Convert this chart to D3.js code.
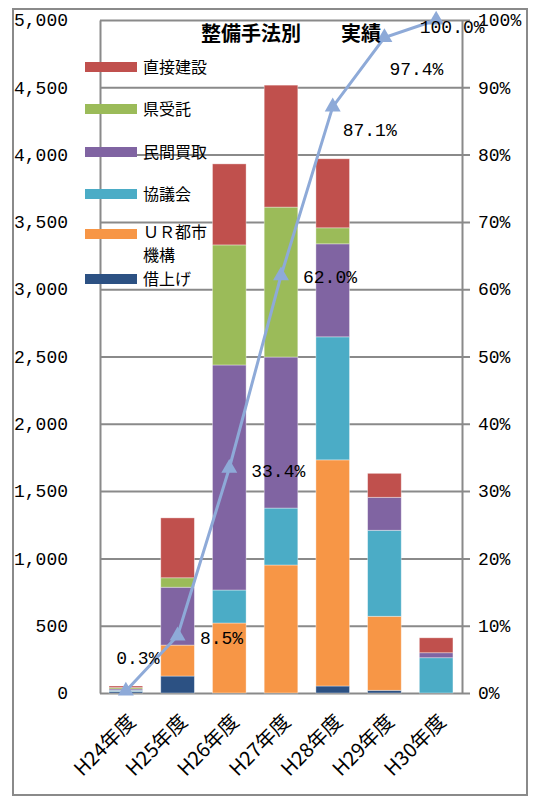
<!DOCTYPE html>
<html>
<head>
<meta charset="utf-8">
<script src="https://cdn.jsdelivr.net/npm/d3@7"></script>
<style>
  body { margin: 0; background: #fff; }
  #chart-area { width: 533px; height: 799px; }
</style>
</head>
<body>
<div id="chart-area"></div>
<script>
// data
const years = ["H24年度", "H25年度", "H26年度", "H27年度", "H28年度", "H29年度", "H30年度"];
const kariage = [12, 126, 0, 0, 52, 20, 0];          // 借上げ
const urKikou = [0, 230, 520, 951, 1680, 550, 0];    // ＵＲ都市機構
const kyougikai = [8, 0, 245, 423, 914, 639, 262];   // 協議会
const minkan = [10, 430, 1672, 1122, 691, 245, 37];  // 民間買取
const kenJutaku = [10, 70, 892, 1114, 119, 0, 0];    // 県受託
const chokusetsu = [12, 445, 602, 906, 513, 178, 111]; // 直接建設
const cumulativePct = [0.3, 8.5, 33.4, 62.0, 87.1, 97.4, 100.0];
const leftTicks = [0, 500, 1000, 1500, 2000, 2500, 3000, 3500, 4000, 4500, 5000];
const rightTicks = [0, 10, 20, 30, 40, 50, 60, 70, 80, 90, 100];

/* * * * * * * * * * * * * *
 *        StackVis          *
 * * * * * * * * * * * * * */

class StackVis {
  constructor(parentElement) {
    this.parentElement = parentElement;

    // series, bottom to top
    this.series = [
      { key: "借上げ", values: kariage, color: "#2c5183" },
      { key: "ＵＲ都市機構", values: urKikou, color: "#f79646" },
      { key: "協議会", values: kyougikai, color: "#4bacc6" },
      { key: "民間買取", values: minkan, color: "#8064a2" },
      { key: "県受託", values: kenJutaku, color: "#9bbb59" },
      { key: "直接建設", values: chokusetsu, color: "#c0504d" },
    ];

    this.initVis();
  }

  initVis() {
    let vis = this;

    vis.margin = { top: 20, right: 71, bottom: 106, left: 100 };
    vis.width = 533;
    vis.height = 799;

    vis.svg = d3
      .select("#" + vis.parentElement)
      .append("svg")
      .attr("width", vis.width)
      .attr("height", vis.height);

    // outer frame
    vis.svg
      .append("rect")
      .attr("x", 13)
      .attr("y", 9)
      .attr("width", 514)
      .attr("height", 786)
      .attr("fill", "none")
      .attr("stroke", "#8a8a8a")
      .attr("stroke-width", 2);

    vis.x = d3
      .scaleBand()
      .domain(years)
      .range([vis.margin.left, vis.width - vis.margin.right])
      .paddingInner(0.35)
      .paddingOuter(0.175);

    vis.y = d3
      .scaleLinear()
      .domain([0, 5000])
      .range([vis.height - vis.margin.bottom, vis.margin.top]);

    vis.y2 = d3
      .scaleLinear()
      .domain([0, 100])
      .range([vis.height - vis.margin.bottom, vis.margin.top]);

    vis.wrangleData();
  }

  wrangleData() {
    let vis = this;

    vis.table = years.map((yr, i) => {
      let row = { year: yr };
      vis.series.forEach((s) => (row[s.key] = s.values[i]));
      return row;
    });

    vis.stacked = d3.stack().keys(vis.series.map((s) => s.key))(vis.table);

    vis.updateVis();
  }

  updateVis() {
    let vis = this;
    const x0 = vis.margin.left;
    const x1 = vis.width - vis.margin.right;

    // gridlines + right axis (ticks reach out past the right axis)
    vis.svg
      .append("g")
      .attr("transform", `translate(${x1}, 0)`)
      .call(
        d3.axisRight(vis.y2)
          .tickValues(rightTicks)
          .tickSize(8)
          .tickSizeOuter(0)
          .tickPadding(8)
          .tickFormat((d) => d + "%")
      )
      .call((g) => g.select(".domain").attr("stroke", "#8a8a8a").attr("stroke-width", 2))
      .call((g) =>
        g.selectAll(".tick line")
          .attr("x1", x0 - x1)
          .attr("stroke", "#8a8a8a")
          .attr("stroke-width", 2)
      )
      .call((g) =>
        g.selectAll(".tick text")
          .attr("fill", "#000")
          .style("font", "18px 'Liberation Mono', monospace")
      );

    // left axis
    vis.svg
      .append("g")
      .attr("transform", `translate(${x0}, 0)`)
      .call(
        d3.axisLeft(vis.y)
          .tickValues(leftTicks)
          .tickSize(0)
          .tickPadding(32)
          .tickFormat(d3.format(","))
      )
      .call((g) => g.select(".domain").attr("stroke", "#8a8a8a").attr("stroke-width", 2))
      .call((g) =>
        g.selectAll(".tick text")
          .attr("fill", "#000")
          .style("font", "18px 'Liberation Mono', monospace")
      );

    // stacked bars
    vis.svg
      .append("g")
      .selectAll("g")
      .data(vis.stacked)
      .join("g")
      .attr("fill", (d, i) => vis.series[i].color)
      .selectAll("rect")
      .data((d) => d)
      .join("rect")
      .attr("x", (d) => vis.x(d.data.year))
      .attr("width", vis.x.bandwidth())
      .attr("y", (d) => vis.y(d[1]))
      .attr("height", (d) => vis.y(d[0]) - vis.y(d[1]))
      .attr("stroke", "rgba(255,255,255,0.45)")
      .attr("stroke-width", (d) => (d[1] - d[0] > 0 ? 0.8 : 0));

    // x labels
    vis.svg
      .append("g")
      .selectAll("text")
      .data(years)
      .join("text")
      .attr("transform", (d) => `translate(${vis.x(d) + vis.x.bandwidth() / 2 + 6}, ${vis.y(0) + 25}) rotate(-45)`)
      .attr("text-anchor", "end")
      .attr("dy", "0.35em")
      .style("font", "20px 'Noto Sans CJK JP', sans-serif")
      .text((d) => d);

    // cumulative line
    const pts = years.map((yr, i) => [vis.x(yr) + vis.x.bandwidth() / 2, vis.y2(cumulativePct[i])]);

    vis.svg
      .append("path")
      .datum(pts)
      .attr("fill", "none")
      .attr("stroke", "#8eaad8")
      .attr("stroke-width", 3)
      .attr("d", d3.line());

    vis.svg
      .append("g")
      .selectAll("path")
      .data(pts)
      .join("path")
      .attr("transform", (d) => `translate(${d[0]}, ${d[1]})`)
      .attr("fill", "#8eaad8")
      .attr("d", d3.symbol(d3.symbolTriangle, 110));

    // data labels (offsets copied from the original placement)
    const labelOffsets = [[12, -33], [44, 2], [49, 2], [49, 1], [37, 23], [32, 31], [16, 7]];
    vis.svg
      .append("g")
      .selectAll("text")
      .data(pts)
      .join("text")
      .attr("x", (d, i) => d[0] + labelOffsets[i][0])
      .attr("y", (d, i) => d[1] + labelOffsets[i][1])
      .attr("dy", "0.35em")
      .attr("text-anchor", "middle")
      .style("font", "18px 'Liberation Mono', monospace")
      .text((d, i) => cumulativePct[i].toFixed(1) + "%");

    // title
    vis.svg
      .append("text")
      .attr("x", 291)
      .attr("y", 34)
      .attr("dy", "0.35em")
      .attr("text-anchor", "middle")
      .style("font", "bold 20px 'Noto Sans CJK JP', sans-serif")
      .text("整備手法別　　実績");

    // legend (top to bottom)
    const legendRows = vis.series.slice().reverse();
    const legendY = [67, 109, 152, 194, 234, 279];
    vis.legend = vis.svg
      .append("g")
      .selectAll("g")
      .data(legendRows)
      .join("g")
      .attr("transform", (d, i) => `translate(85, ${legendY[i]})`);

    vis.legend
      .append("rect")
      .attr("y", -5)
      .attr("width", 52)
      .attr("height", 10)
      .attr("fill", (d) => d.color);

    // the UR label wraps onto two lines
    vis.legend
      .selectAll("text")
      .data((d) => (d.key === "ＵＲ都市機構" ? ["ＵＲ都市", "機構"] : [d.key]))
      .join("text")
      .attr("x", 58)
      .attr("y", (d, i, nodes) => (nodes.length > 1 ? -2 + i * 23 : 0))
      .attr("dy", "0.35em")
      .style("font", "16px 'Noto Sans CJK JP', sans-serif")
      .text((d) => d);
  }
}

new StackVis("chart-area");
</script>
</body>
</html>
